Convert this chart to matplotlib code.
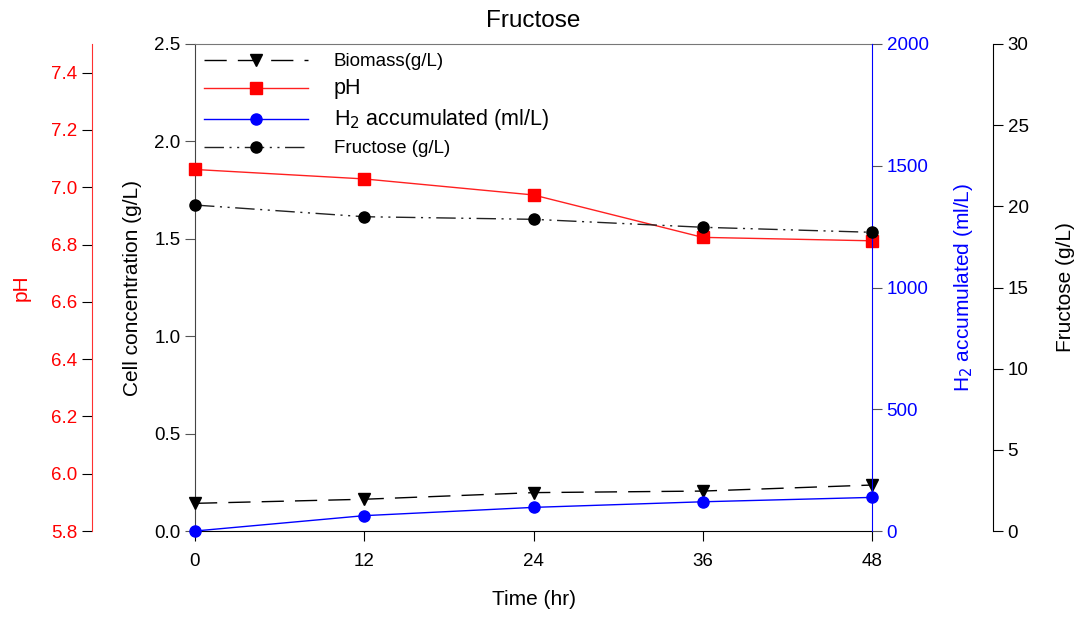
import matplotlib
matplotlib.use("Agg")
import matplotlib.pyplot as plt

plt.rcParams['font.family'] = ['Liberation Sans', 'DejaVu Sans']

time_hr = [0, 12, 24, 36, 48]
biomass = [0.142, 0.163, 0.197, 0.205, 0.236]
ph = [7.062, 7.029, 6.973, 6.825, 6.813]
h2 = [0, 63, 97, 120, 138]
fructose = [20.08, 19.36, 19.2, 18.71, 18.4]

x_ticks = [0, 12, 24, 36, 48]
cell_ticks = [0.0, 0.5, 1.0, 1.5, 2.0, 2.5]
ph_ticks = [5.8, 6.0, 6.2, 6.4, 6.6, 6.8, 7.0, 7.2, 7.4]
h2_ticks = [0, 500, 1000, 1500, 2000]
fru_ticks = [0, 5, 10, 15, 20, 25, 30]

W, H = 1077, 619
fig = plt.figure(figsize=(W / 100, H / 100), dpi=100)
ax = fig.add_axes([195 / W, 1 - 531 / H, (872 - 195) / W, (531 - 44) / H])
ax_ph = ax.twinx()
ax_h2 = ax.twinx()
ax_fr = ax.twinx()

tick_fs = 13.5
label_fs = 15

# main axis
ax.set_xlim(0, 48)
ax.set_ylim(0, 2.5)
ax.set_xticks(x_ticks)
ax.set_yticks(cell_ticks)
ax.set_yticklabels([f"{v:.1f}" for v in cell_ticks])
ax.tick_params(direction='out', length=7, labelsize=tick_fs, colors='black')
ax.tick_params(axis='x', pad=9)
ax.tick_params(axis='y', color='#555555')
ax.spines['left'].set_color('#444444')
ax.spines['top'].set_color('#777777')
ax.spines['right'].set_visible(False)
ax.set_xlabel("Time (hr)", fontsize=label_fs, labelpad=14)
ax.set_ylabel("Cell concentration (g/L)", fontsize=label_fs, labelpad=9)
ax.set_title("Fructose", fontsize=17.5, pad=12)

# pH axis (far left)
ax_ph.yaxis.set_label_position('left')
ax_ph.yaxis.set_ticks_position('left')
ax_ph.spines['left'].set_position(('outward', 103 * 72 / 100))
ax_ph.spines['left'].set_visible(True)
ax_ph.spines['left'].set_color('#ff3030')
for s in ['right', 'top', 'bottom']:
    ax_ph.spines[s].set_visible(False)
ax_ph.set_ylim(5.8, 7.5)
ax_ph.set_yticks(ph_ticks)
ax_ph.set_yticklabels([f"{v:.1f}" for v in ph_ticks])
ax_ph.tick_params(axis='y', direction='out', length=7, labelsize=tick_fs,
                  labelcolor='#ff0000', color='black')
ax_ph.set_ylabel("pH", color='#ff0000', fontsize=label_fs, labelpad=15)

# H2 axis (right)
ax_h2.set_ylim(0, 2000)
ax_h2.set_yticks(h2_ticks)
for s in ['left', 'top', 'bottom']:
    ax_h2.spines[s].set_visible(False)
ax_h2.spines['right'].set_color('#0000ff')
ax_h2.tick_params(axis='y', direction='out', length=7, labelsize=tick_fs,
                  labelcolor='#0000ff', color='#555555')
ax_h2.set_ylabel("H$_2$ accumulated (ml/L)", color='#0000ff', fontsize=label_fs, labelpad=17)

# Fructose axis (far right)
ax_fr.spines['right'].set_position(('outward', 121 * 72 / 100))
for s in ['left', 'top', 'bottom']:
    ax_fr.spines[s].set_visible(False)
ax_fr.spines['right'].set_color('black')
ax_fr.set_ylim(0, 30)
ax_fr.set_yticks(fru_ticks)
ax_fr.tick_params(axis='y', direction='out', length=7, labelsize=tick_fs, colors='black')
ax_fr.set_ylabel("Fructose (g/L)", fontsize=label_fs, labelpad=20)

# data
l_bio, = ax.plot(time_hr, biomass, color='black', lw=1.0, dashes=(16, 8),
                 marker='v', markersize=9, clip_on=False, zorder=5,
                 label="Biomass(g/L)")
l_ph, = ax_ph.plot(time_hr, ph, color='#ff2020', lw=1.0, marker='s',
                   markersize=9, markerfacecolor='#ff0000', markeredgecolor='#ff0000',
                   clip_on=False, zorder=5, label="pH")
l_h2, = ax_h2.plot(time_hr, h2, color='#0000ff', lw=1.0, marker='o',
                   markersize=8, clip_on=False, zorder=5,
                   label="H$_2$ accumulated (ml/L)")
l_fr, = ax_fr.plot(time_hr, fructose, color='#222222', lw=1.0,
                   dashes=(14, 4, 1.5, 4, 1.5, 4), marker='o', markersize=8,
                   markerfacecolor='black', markeredgecolor='black',
                   clip_on=False, zorder=5, label="Fructose (g/L)")

leg = ax_fr.legend(handles=[l_bio, l_ph, l_h2, l_fr], loc='upper left',
                   bbox_to_anchor=(0.0, 1.0), bbox_transform=ax.transAxes,
                   frameon=False, fontsize=13.5, handlelength=5.5,
                   handletextpad=1.4, labelspacing=0.42, borderaxespad=0.2,
                   borderpad=0.3)
texts = leg.get_texts()
texts[1].set_fontsize(15.5)
texts[2].set_fontsize(15.5)

fig.savefig("out.png", dpi=100)
